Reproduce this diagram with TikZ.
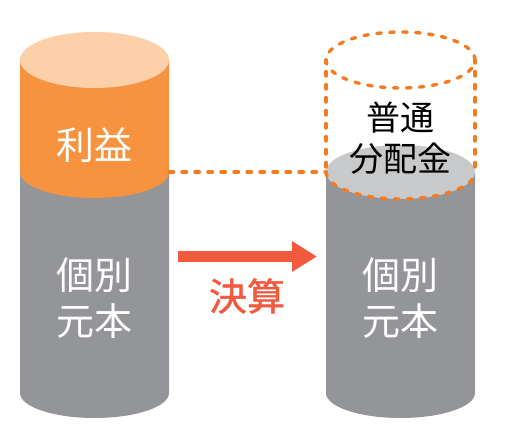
\documentclass[tikz,border=0pt]{standalone}
\usepackage{fontspec}
\setmainfont{Noto Sans CJK JP}
\newfontfamily\kessanfont[FakeBold=1.2]{Noto Sans CJK JP}
\usetikzlibrary{arrows.meta}
\definecolor{bodyorange}{HTML}{F7923F}
\definecolor{toplight}{HTML}{FDD0A9}
\definecolor{bodygray}{HTML}{939598}
\definecolor{lightgray}{HTML}{C8C9CB}
\definecolor{dashorange}{HTML}{F47B20}
\definecolor{arrowred}{HTML}{F15A3F}
\tikzset{
  dashline/.style={draw=dashorange, line width=3.4pt, line cap=round, dash pattern=on 4.5pt off 8.5pt},
  bigtext/.style={inner sep=0pt, align=center, font=\fontsize{38}{46}\selectfont},
  midtext/.style={inner sep=0pt, align=center, font=\fontsize{34}{41}\selectfont},
  bigarrow/.style={draw=arrowred, line width=11pt, -{Triangle[length=25pt,width=29pt]}}
}
\begin{document}
\begin{tikzpicture}[x=1pt,y=1pt]
\useasboundingbox (0,0) rectangle (505,431);
% left cylinder
\fill[bodygray] (20,259) -- (20,38) arc[start angle=180,end angle=360,x radius=74.5,y radius=25] -- (169,259) -- cycle;
\fill[bodyorange] (20,371) -- (20,259) arc[start angle=180,end angle=360,x radius=74.5,y radius=26] -- (169,371) -- cycle;
\fill[toplight] (94.5,371) ellipse[x radius=74.5,y radius=28];
% right cylinder
\fill[bodygray] (326,259) -- (326,38) arc[start angle=180,end angle=360,x radius=74.5,y radius=25] -- (475,259) -- cycle;
\fill[lightgray] (400.5,259) ellipse[x radius=74.5,y radius=27];
% dashed outline
\draw[dashline] (326,259) arc[start angle=180,end angle=360,x radius=74.5,y radius=27];
\draw[dashline] (326,264) -- (326,371);
\draw[dashline] (475,264) -- (475,371);
\draw[dashline] (400.5,371) ellipse[x radius=74.5,y radius=28];
\coordinate (lline) at (169,259);
\coordinate (rline) at (326,259);
\draw[dashline] (lline) -- (rline);
% texts
\node[bigtext, text=white] (rieki) at (94.5,286) {利益};
\node[bigtext, text=white] (lbody) at (94.5,133) {個別\\元本};
\node[bigtext, text=white] (rbody) at (400.5,133) {個別\\元本};
\node[midtext, text=black] (haito) at (400.5,293) {普通\\分配金};
% arrow
\coordinate (astart) at (178,174.5);
\coordinate (aend) at (317,174.5);
\draw[bigarrow] (astart) -- (aend);
\node[inner sep=0pt, text=arrowred, font=\kessanfont\fontsize{38}{46}\selectfont] (kessan) at (247,135) {決算};
\end{tikzpicture}
\end{document}
